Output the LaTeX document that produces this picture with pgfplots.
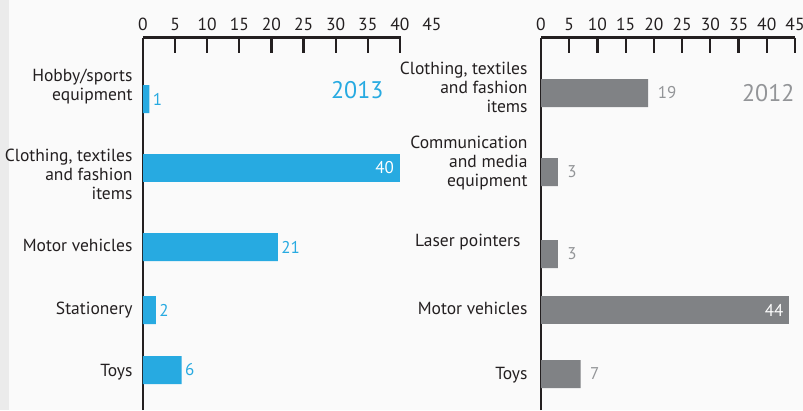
\documentclass[border=0pt]{standalone}
\usepackage{fontspec}
\setmainfont{PT Sans}
\usepackage{pgfplots}
\pgfplotsset{compat=1.18}
\definecolor{cblue}{HTML}{27AAE1}
\definecolor{cgray}{HTML}{808285}
\definecolor{tgray}{HTML}{939598}
\definecolor{dark}{HTML}{231F20}
\definecolor{bg}{HTML}{FAFAFA}
\definecolor{strip}{HTML}{EBEBEB}
\pgfplotsset{
  common/.style={
    scale only axis, height=372.5pt,
    ymin=-410, ymax=-37.5,
    xmin=0, xmax=45, enlargelimits=false,
    axis x line*=top, axis y line*=left,
    axis line style={line width=2.2pt, dark},
    tick align=inside, major tick length=0pt,
    xtick={0,5,...,40},
    every tick label/.append style={font=\fontsize{17.5}{19}\selectfont, text=dark},
    xticklabel style={yshift=3pt},
    /pgf/number format/assume math mode=true,
    tick style={draw=none},
    yticklabel style={align=right},
    xbar, bar width=28pt, bar shift=0pt,
    point meta=explicit symbolic,
    clip=false,
  },
  outlbl/.style={nodes near coords, every node near coord/.append style={anchor=west, text=#1, font=\fontsize{17}{19}\selectfont}},
  inlbl/.style={nodes near coords, every node near coord/.append style={anchor=east, text=white, xshift=-2.5pt, font=\fontsize{17}{19}\selectfont}},
}
\begin{document}
\begin{tikzpicture}
\fill[bg] (0pt,0pt) rectangle (803pt,-410pt);
\fill[strip] (0pt,0pt) rectangle (9pt,-410pt);
\useasboundingbox (0pt,0pt) rectangle (803pt,-410pt);
% 2013
\begin{axis}[common, at={(143pt,-37.5pt)}, anchor=north west, width=289pt,
  x axis line style={shorten >=31pt},
  extra x ticks={45}, extra x tick style={grid=none},
  yticklabel style={xshift=-7pt},
  ytick={-87,-174,-245,-310,-372},
  yticklabels={{Hobby/sports\\equipment},{Clothing, textiles\\and fashion\\items},{Motor vehicles},{Stationery},{Toys}},
]
\pgfplotsinvokeforeach{5,10,15,20,25,30,35,40}{
  \draw[line width=2.3pt, dark] (axis cs:#1,-37.5) -- ([yshift=-15pt]axis cs:#1,-37.5);
}
\addplot[fill=cblue, draw=none, outlbl=cblue] table[x=v, y=y, meta=v]{
v y
1 -99
21 -247
2 -310
6 -370
};
\addplot[fill=cblue, draw=none, inlbl] table[x=v, y=y, meta=v]{
v y
40 -168
};
\end{axis}
% 2012
\begin{axis}[common, at={(541pt,-37.5pt)}, anchor=north west, width=254pt,
  xtick={0,5,...,45},
  yticklabel style={xshift=-10pt},
  ytick={-87,-163,-242,-308,-375},
  yticklabels={{Clothing, textiles\\and fashion\\items},{Communication\\and media\\equipment},{Laser pointers\hspace*{7pt}},{Motor vehicles},{Toys}},
]
\pgfplotsinvokeforeach{5,10,15,20,25,30,35,40,45}{
  \draw[line width=2.3pt, dark] (axis cs:#1,-37.5) -- ([yshift=-15pt]axis cs:#1,-37.5);
}
\addplot[fill=cgray, draw=none, outlbl=tgray, every node near coord/.append style={xshift=6pt}] table[x=v, y=y, meta=v]{
v y
19 -93
3 -172
3 -254
7 -374
};
\addplot[fill=cgray, draw=none, inlbl] table[x=v, y=y, meta=v]{
v y
44 -310
};
\end{axis}
\node[anchor=east, text=cblue, font=\fontsize{24}{24}\selectfont] at (387pt,-90pt) {2013};
\node[anchor=east, text=tgray, font=\fontsize{24}{24}\selectfont] at (798pt,-93pt) {2012};
\end{tikzpicture}
\end{document}
